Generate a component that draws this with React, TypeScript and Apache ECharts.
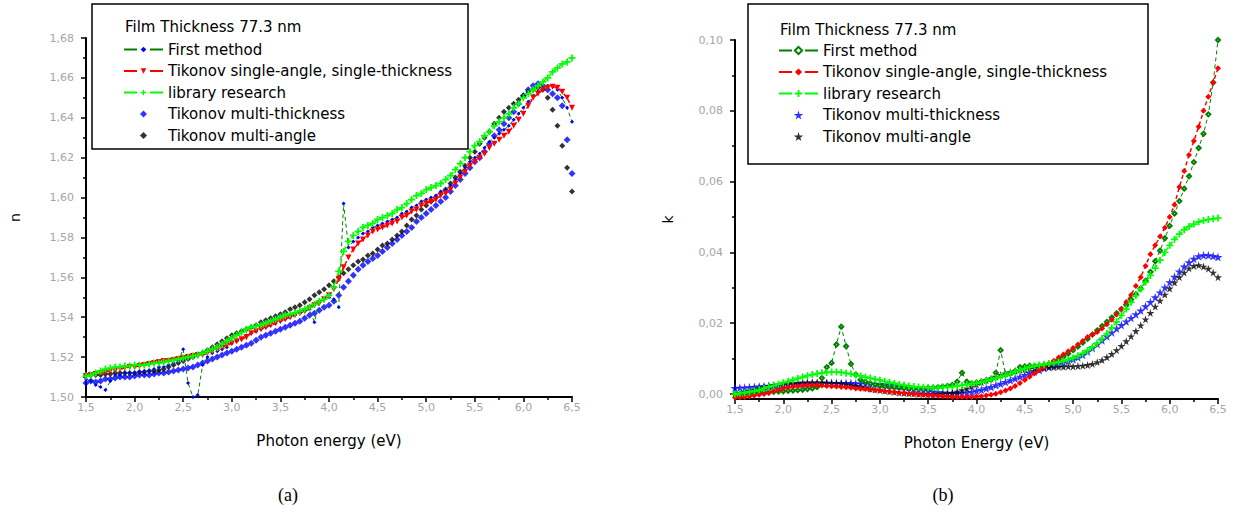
import React, { useEffect, useRef } from "react";
import * as echarts from "echarts";

// Photon energy sampling (eV)
const ENERGY = [
  1.5, 1.55, 1.6, 1.65, 1.7, 1.75, 1.8, 1.85, 1.9, 1.95,
  2.0, 2.05, 2.1, 2.15, 2.2, 2.25, 2.3, 2.35, 2.4, 2.45,
  2.5, 2.55, 2.6, 2.65, 2.7, 2.75, 2.8, 2.85, 2.9, 2.95,
  3.0, 3.05, 3.1, 3.15, 3.2, 3.25, 3.3, 3.35, 3.4, 3.45,
  3.5, 3.55, 3.6, 3.65, 3.7, 3.75, 3.8, 3.85, 3.9, 3.95,
  4.0, 4.05, 4.1, 4.15, 4.2, 4.25, 4.3, 4.35, 4.4, 4.45,
  4.5, 4.55, 4.6, 4.65, 4.7, 4.75, 4.8, 4.85, 4.9, 4.95,
  5.0, 5.05, 5.1, 5.15, 5.2, 5.25, 5.3, 5.35, 5.4, 5.45,
  5.5, 5.55, 5.6, 5.65, 5.7, 5.75, 5.8, 5.85, 5.9, 5.95,
  6.0, 6.05, 6.1, 6.15, 6.2, 6.25, 6.3, 6.35, 6.4, 6.45,
  6.5,
];

const SERIES_NAMES = [
  "First method",
  "Tikonov single-angle, single-thickness",
  "library research",
  "Tikonov multi-thickness",
  "Tikonov multi-angle",
];
const LEGEND_TITLE = "Film Thickness 77.3 nm";

// (a) refractive index n
const N_FIRST = [
  1.509, 1.508, 1.506, 1.505, 1.5035, 1.508, 1.511, 1.511, 1.512, 1.512,
  1.512, 1.5125, 1.513, 1.513, 1.514, 1.515, 1.515, 1.516, 1.517, 1.518,
  1.524, 1.507, 1.5, 1.501, 1.516, 1.52, 1.522, 1.523, 1.524, 1.525,
  1.527, 1.528, 1.529, 1.531, 1.532, 1.533, 1.534, 1.535, 1.536, 1.537,
  1.538, 1.539, 1.54, 1.541, 1.542, 1.543, 1.544, 1.5375, 1.548, 1.549,
  1.55, 1.549, 1.545, 1.597, 1.575, 1.578, 1.58, 1.582, 1.583, 1.585,
  1.586, 1.587, 1.588, 1.589, 1.59, 1.592, 1.593, 1.595, 1.596, 1.598,
  1.599, 1.6, 1.601, 1.603, 1.604, 1.606, 1.609, 1.612, 1.615, 1.618,
  1.62, 1.622, 1.625, 1.628, 1.63, 1.632, 1.634, 1.636, 1.639, 1.642,
  1.645, 1.648, 1.651, 1.653, 1.655, 1.656, 1.656, 1.654, 1.65, 1.645,
  1.638,
];
const N_SINGLE = [
  1.5105, 1.511, 1.5115, 1.512, 1.5125, 1.513, 1.5135, 1.514, 1.5145, 1.515,
  1.515, 1.5155, 1.516, 1.5165, 1.517, 1.5175, 1.518, 1.518, 1.5185, 1.519,
  1.5195, 1.52, 1.5205, 1.521, 1.521, 1.522, 1.523, 1.524, 1.525, 1.526,
  1.527, 1.528, 1.529, 1.53, 1.532, 1.533, 1.534, 1.535, 1.536, 1.537,
  1.538, 1.539, 1.54, 1.541, 1.542, 1.543, 1.5445, 1.546, 1.547, 1.549,
  1.551, 1.554, 1.559, 1.565, 1.57, 1.574, 1.577, 1.579, 1.581, 1.583,
  1.584, 1.585, 1.586, 1.587, 1.588, 1.59, 1.591, 1.593, 1.594, 1.596,
  1.597, 1.598, 1.599, 1.601, 1.602, 1.604, 1.607, 1.61, 1.613, 1.616,
  1.618, 1.62, 1.622, 1.625, 1.627, 1.629, 1.631, 1.633, 1.636, 1.639,
  1.642, 1.646, 1.65, 1.652, 1.654, 1.655, 1.6555, 1.655, 1.653, 1.65,
  1.645,
];
const N_LIBRARY = [
  1.5105, 1.511, 1.512, 1.513, 1.514, 1.5145, 1.515, 1.515, 1.5155, 1.5155,
  1.516, 1.516, 1.516, 1.5165, 1.517, 1.517, 1.5175, 1.518, 1.5185, 1.519,
  1.5195, 1.52, 1.5205, 1.521, 1.522, 1.523, 1.524, 1.525, 1.5265, 1.528,
  1.5295, 1.531, 1.5325, 1.534, 1.535, 1.5355, 1.536, 1.537, 1.538, 1.539,
  1.54, 1.541, 1.5415, 1.542, 1.543, 1.544, 1.545, 1.5465, 1.548, 1.549,
  1.551, 1.555, 1.563, 1.573, 1.578, 1.581, 1.583, 1.585, 1.586, 1.587,
  1.589, 1.59, 1.591, 1.592, 1.594, 1.595, 1.597, 1.599, 1.601, 1.602,
  1.604, 1.605, 1.606, 1.607, 1.609, 1.611, 1.614, 1.617, 1.62, 1.623,
  1.626, 1.628, 1.631, 1.633, 1.636, 1.638, 1.64, 1.642, 1.645, 1.647,
  1.65, 1.652, 1.654, 1.656, 1.658, 1.66, 1.663, 1.665, 1.667, 1.668,
  1.67,
];
const N_THICK = [
  1.507, 1.508, 1.5075, 1.508, 1.509, 1.509, 1.5095, 1.51, 1.51, 1.51,
  1.5105, 1.511, 1.511, 1.511, 1.5115, 1.512, 1.512, 1.5125, 1.513, 1.5135,
  1.514, 1.5145, 1.515, 1.516, 1.517, 1.518, 1.519, 1.52, 1.521, 1.522,
  1.523, 1.524, 1.525, 1.526, 1.527, 1.5285, 1.53, 1.531, 1.532, 1.533,
  1.534, 1.535, 1.536, 1.537, 1.538, 1.5395, 1.541, 1.542, 1.5435, 1.545,
  1.546, 1.548, 1.551, 1.555, 1.558, 1.561, 1.564, 1.566, 1.568, 1.5695,
  1.571, 1.573, 1.575, 1.577, 1.579, 1.581, 1.583, 1.585, 1.588, 1.59,
  1.592, 1.594, 1.596, 1.598, 1.6, 1.603, 1.606, 1.609, 1.612, 1.615,
  1.618, 1.62, 1.623, 1.627, 1.631, 1.634, 1.637, 1.64, 1.643, 1.647,
  1.651, 1.654, 1.656, 1.657, 1.656, 1.654, 1.652, 1.65, 1.646, 1.629,
  1.612,
];
const N_ANGLE = [
  1.511, 1.511, 1.511, 1.511, 1.5115, 1.5115, 1.512, 1.512, 1.512, 1.512,
  1.512, 1.5125, 1.5125, 1.513, 1.513, 1.5135, 1.514, 1.515, 1.516, 1.517,
  1.518, 1.519, 1.52, 1.521, 1.522, 1.5235, 1.525, 1.5265, 1.528, 1.5295,
  1.531, 1.532, 1.533, 1.534, 1.535, 1.536, 1.5375, 1.5385, 1.5395, 1.5405,
  1.5415, 1.5425, 1.544, 1.545, 1.546, 1.5475, 1.549, 1.551, 1.5525, 1.554,
  1.556, 1.558, 1.56, 1.562, 1.564, 1.566, 1.568, 1.569, 1.571, 1.572,
  1.574, 1.576, 1.577, 1.579, 1.581, 1.583, 1.586, 1.589, 1.591, 1.594,
  1.596, 1.598, 1.6, 1.602, 1.604, 1.607, 1.61, 1.613, 1.616, 1.62,
  1.623, 1.627, 1.63, 1.633, 1.637, 1.64, 1.643, 1.645, 1.647, 1.649,
  1.651, 1.653, 1.654, 1.655, 1.654, 1.65, 1.644, 1.636, 1.626, 1.615,
  1.603,
];

// (b) extinction coefficient k
const K_FIRST = [
  0.0, 0.0, 0.0001, 0.0001, 0.0002, 0.0003, 0.0004, 0.0005, 0.0006, 0.0007,
  0.0008, 0.0009, 0.001, 0.0011, 0.0012, 0.0014, 0.0016, 0.002, 0.0045, 0.0076,
  0.0088, 0.014, 0.019, 0.0135, 0.0085, 0.0055, 0.004, 0.0035, 0.003, 0.0027,
  0.0024, 0.0022, 0.002, 0.0019, 0.0018, 0.0017, 0.0016, 0.0016, 0.0016, 0.0016,
  0.0017, 0.0018, 0.0019, 0.0021, 0.0023, 0.0026, 0.0035, 0.006, 0.0035, 0.003,
  0.0032, 0.0035, 0.0038, 0.0042, 0.006, 0.0124, 0.0055, 0.0058, 0.0065, 0.0076,
  0.0078, 0.008, 0.0079, 0.008, 0.0082, 0.0085, 0.009, 0.0097, 0.0105, 0.0114,
  0.0124, 0.0134, 0.0145, 0.0156, 0.0168, 0.018, 0.0192, 0.0204, 0.0216, 0.0228,
  0.024, 0.0253, 0.0267, 0.0282, 0.0298, 0.032, 0.0345, 0.0375, 0.0405, 0.044,
  0.0475, 0.051, 0.0545, 0.058, 0.0615, 0.0655, 0.0695, 0.0735, 0.079, 0.088,
  0.1,
];
const K_SINGLE = [
  -0.001, -0.0009, -0.0008, -0.0006, -0.0004, -0.0002, 0.0, 0.0003, 0.0008, 0.0012,
  0.0016, 0.0019, 0.0021, 0.0023, 0.0024, 0.0025, 0.0025, 0.0025, 0.0024, 0.0023,
  0.0022, 0.0021, 0.002, 0.0019, 0.0018, 0.0016, 0.0015, 0.0014, 0.0012, 0.0011,
  0.001, 0.0008, 0.0007, 0.0005, 0.0004, 0.0003, 0.0001, 0.0, -0.0001, -0.0002,
  -0.0003, -0.0004, -0.0005, -0.0006, -0.0007, -0.0008, -0.0008, -0.0008, -0.0008, -0.0008,
  -0.0007, -0.0006, -0.0004, -0.0002, 0.0001, 0.0005, 0.001, 0.0016, 0.0023, 0.0031,
  0.004, 0.0049, 0.0058, 0.0067, 0.0076, 0.0085, 0.0094, 0.0103, 0.0112, 0.0121,
  0.013, 0.014, 0.015, 0.0161, 0.0168, 0.0175, 0.0185, 0.0197, 0.021, 0.0225,
  0.024, 0.026, 0.028, 0.0305, 0.033, 0.0362, 0.0395, 0.042, 0.0445, 0.047,
  0.05, 0.0535, 0.0585, 0.063, 0.0675, 0.0715, 0.0755, 0.08, 0.084, 0.088,
  0.092,
];
const K_LIBRARY = [
  0.0, 0.0002, 0.0004, 0.0006, 0.0009, 0.0012, 0.0016, 0.002, 0.0024, 0.0028,
  0.0032, 0.0036, 0.004, 0.0044, 0.0048, 0.0052, 0.0055, 0.0058, 0.006, 0.0061,
  0.0062, 0.0062, 0.0061, 0.0059, 0.0057, 0.0054, 0.0051, 0.0048, 0.0045, 0.0042,
  0.0039, 0.0036, 0.0033, 0.003, 0.0027, 0.0025, 0.0023, 0.0021, 0.002, 0.0019,
  0.0018, 0.0018, 0.0018, 0.0019, 0.002, 0.0021, 0.0023, 0.0025, 0.0027, 0.0029,
  0.0031, 0.0034, 0.0037, 0.0041, 0.0045, 0.0049, 0.0053, 0.0058, 0.0063, 0.0068,
  0.0072, 0.0076, 0.0079, 0.0082, 0.0084, 0.0086, 0.0088, 0.009, 0.0093, 0.0097,
  0.0102, 0.0108, 0.0115, 0.0123, 0.0133, 0.0144, 0.0157, 0.0171, 0.0187, 0.0204,
  0.0222, 0.024, 0.0259, 0.0278, 0.0297, 0.0316, 0.0335, 0.0356, 0.0378, 0.04,
  0.042, 0.0437, 0.0452, 0.0464, 0.0473, 0.048, 0.0486, 0.049, 0.0493, 0.0495,
  0.0497,
];
const K_THICK = [
  0.0017, 0.0018, 0.0018, 0.0019, 0.002, 0.0021, 0.0022, 0.0023, 0.0024, 0.0025,
  0.0026, 0.0027, 0.0028, 0.0029, 0.0029, 0.003, 0.003, 0.003, 0.0031, 0.0031,
  0.0031, 0.0031, 0.0031, 0.0031, 0.0031, 0.003, 0.003, 0.003, 0.0029, 0.0029,
  0.0028, 0.0027, 0.0026, 0.0025, 0.0023, 0.0021, 0.0018, 0.0015, 0.0013, 0.0011,
  0.0009, 0.0007, 0.0005, 0.0004, 0.0003, 0.0002, 0.0002, 0.0003, 0.0004, 0.0006,
  0.0009, 0.0012, 0.0016, 0.002, 0.0025, 0.0029, 0.0034, 0.0039, 0.0044, 0.0049,
  0.0054, 0.0059, 0.0064, 0.0068, 0.0073, 0.0077, 0.0081, 0.0085, 0.0089, 0.0093,
  0.0098, 0.0104, 0.0111, 0.012, 0.013, 0.0141, 0.0152, 0.0163, 0.0174, 0.0185,
  0.0195, 0.0205, 0.0215, 0.0225, 0.0236, 0.0248, 0.026, 0.0273, 0.0287, 0.0301,
  0.0316, 0.0331, 0.0346, 0.036, 0.0372, 0.0382, 0.0389, 0.0392, 0.0392, 0.039,
  0.0387,
];
const K_ANGLE = [
  0.0, 0.0002, 0.0005, 0.0008, 0.0012, 0.0016, 0.0019, 0.0022, 0.0025, 0.0027,
  0.0029, 0.003, 0.0031, 0.0032, 0.0032, 0.0033, 0.0033, 0.0033, 0.0033, 0.0032,
  0.0031, 0.003, 0.0029, 0.0027, 0.0025, 0.0023, 0.002, 0.0018, 0.0015, 0.0013,
  0.0011, 0.0009, 0.0007, 0.0006, 0.0004, 0.0003, 0.0002, 0.0001, 0.0, 0.0,
  -0.0001, -0.0001, 0.0, 0.0, 0.0002, 0.0004, 0.0007, 0.0011, 0.0016, 0.0021,
  0.0027, 0.0033, 0.0039, 0.0044, 0.0049, 0.0054, 0.0058, 0.0062, 0.0065, 0.0068,
  0.007, 0.0072, 0.0073, 0.0074, 0.0075, 0.0076, 0.0076, 0.0077, 0.0077, 0.0078,
  0.0078, 0.0079, 0.008, 0.0082, 0.0085, 0.009, 0.0096, 0.0104, 0.0113, 0.0124,
  0.0136, 0.0149, 0.0163, 0.0178, 0.0194, 0.0211, 0.0229, 0.0247, 0.0264, 0.0281,
  0.0298, 0.0315, 0.033, 0.0343, 0.0355, 0.0362, 0.0364, 0.036, 0.0354, 0.0343,
  0.033,
];

const K_MAJOR_TICKS = [0, 0.02, 0.04, 0.06, 0.08, 0.1];
const K_MINOR_TICKS = [0.01, 0.03, 0.05, 0.07, 0.09];

const PLUS = "path://M3,0H5V3H8V5H5V8H3V5H0V3H3Z";
const STAR = "path://M50,0L61,35L98,35L68,57L79,91L50,70L21,91L32,57L2,35L39,35Z";
const DIAMOND = "path://M5,0L10,5L5,10L0,5Z";

const zip = (ys: number[]) => ENERGY.map((x, i) => [x, ys[i]]);
const comma = (d: number) => (v: number) => v.toFixed(d).replace(".", ",");

const FONT = "DejaVu Sans";
const axisLine = { show: true, onZero: false, lineStyle: { color: "#000", width: 2 } };
const majorTick = { show: true, inside: false, length: 5, lineStyle: { color: "#000", width: 1.5 } };
const minorTick = { show: true, splitNumber: 2, length: 3, lineStyle: { color: "#000", width: 1.5 } };
const tickLabel = { color: "#a6a6a6", fontFamily: FONT, fontSize: 11 };
const nameStyle = { color: "#000", fontFamily: FONT, fontSize: 15 };

function xAxisOf(name: string) {
  return {
    type: "value",
    min: 1.5,
    max: 6.5,
    interval: 0.5,
    axisLine,
    axisTick: majorTick,
    minorTick,
    splitLine: { show: false },
    minorSplitLine: { show: false },
    axisLabel: { ...tickLabel, margin: 5, formatter: comma(1) },
    name,
    nameLocation: "middle",
    nameGap: 36,
    nameTextStyle: nameStyle,
  };
}

function legendOf(left: number, top: number, itemHeight: number) {
  return {
    orient: "vertical",
    left,
    top,
    padding: 0,
    itemWidth: 39,
    itemHeight,
    itemGap: 6.5,
    selectedMode: false,
    symbolKeepAspect: true,
    textStyle: { fontFamily: FONT, fontSize: 15, color: "#000", lineHeight: 15 },
    lineStyle: { width: 2, type: [13, 13] },
    data: SERIES_NAMES,
  };
}

function boxGraphics(rx: number, rw: number, rh: number, tx: number, ty: number, cap: string, cx: number) {
  return [
    { type: "rect", shape: { x: rx, y: 4, width: rw, height: rh }, style: { fill: "none", stroke: "#000", lineWidth: 1.5 } },
    { type: "text", x: tx, y: ty, style: { text: LEGEND_TITLE, fontFamily: FONT, fontSize: 15, fill: "#000", verticalAlign: "middle" } },
    { type: "text", x: cx, y: 495, style: { text: cap, fontFamily: "Liberation Serif", fontSize: 18, fill: "#000", align: "center", verticalAlign: "middle" } },
  ];
}

const optionA = {
  animation: false,
  grid: { left: 86, top: 38, width: 486, height: 359 },
  xAxis: xAxisOf("Photon energy (eV)"),
  yAxis: {
    type: "value",
    min: 1.5,
    max: 1.68,
    interval: 0.02,
    axisLine,
    axisTick: majorTick,
    minorTick,
    splitLine: { show: false },
    minorSplitLine: { show: false },
    axisLabel: { ...tickLabel, margin: 12, formatter: comma(2) },
    name: "n",
    nameLocation: "middle",
    nameGap: 64,
    nameTextStyle: { ...nameStyle, fontSize: 14 },
  },
  legend: legendOf(123, 42, 7),
  graphic: boxGraphics(92, 376, 145, 125, 27, "(a)", 288),
  series: [
    {
      name: SERIES_NAMES[0], type: "line", data: zip(N_FIRST), symbol: "diamond", symbolSize: 4, showAllSymbol: true,
      itemStyle: { color: "#0000ff" }, lineStyle: { color: "#008000", width: 1, type: [4, 3] },
    },
    {
      name: SERIES_NAMES[1], type: "line", data: zip(N_SINGLE), symbol: "triangle", symbolRotate: 180, symbolSize: 6, showAllSymbol: true,
      itemStyle: { color: "#ff0000" }, lineStyle: { color: "#ff0000", width: 1.5, type: [4, 3] },
    },
    {
      name: SERIES_NAMES[2], type: "line", data: zip(N_LIBRARY), symbol: PLUS, symbolSize: 7, showAllSymbol: true,
      itemStyle: { color: "#00ff00" }, lineStyle: { color: "#00ff00", width: 1.5, type: [4, 3] },
    },
    { name: SERIES_NAMES[3], type: "scatter", data: zip(N_THICK), symbol: DIAMOND, symbolSize: 7, itemStyle: { color: "#0000ff" } },
    { name: SERIES_NAMES[4], type: "scatter", data: zip(N_ANGLE), symbol: DIAMOND, symbolSize: 6, itemStyle: { color: "#000000" } },
  ],
};

const optionB = {
  animation: false,
  grid: { left: 115, top: 40, width: 483, height: 359 },
  xAxis: xAxisOf("Photon Energy (eV)"),
  yAxis: [
    {
      type: "value",
      min: -0.0014,
      max: 0.1,
      axisLine,
      axisTick: { ...majorTick, customValues: K_MAJOR_TICKS },
      splitLine: { show: false },
      axisLabel: { ...tickLabel, margin: 12, formatter: comma(2), customValues: K_MAJOR_TICKS },
      name: "k",
      nameLocation: "middle",
      nameGap: 60,
      nameTextStyle: { ...nameStyle, fontSize: 14 },
    },
    {
      type: "value",
      min: -0.0014,
      max: 0.1,
      position: "left",
      axisLine: { show: false },
      axisTick: { show: true, length: 3, lineStyle: { color: "#000", width: 1.5 }, customValues: K_MINOR_TICKS },
      axisLabel: { show: false },
      splitLine: { show: false },
    },
  ],
  legend: legendOf(158, 43, 9),
  graphic: boxGraphics(128, 400, 160, 160, 30, "(b)", 323),
  series: [
    {
      name: SERIES_NAMES[0], type: "line", data: zip(K_FIRST), symbol: "emptyDiamond", symbolSize: 4, showAllSymbol: true,
      itemStyle: { color: "#008000" }, lineStyle: { color: "#008000", width: 1, type: [4, 3] },
    },
    {
      name: SERIES_NAMES[1], type: "line", data: zip(K_SINGLE), symbol: "diamond", symbolSize: 6, showAllSymbol: true,
      itemStyle: { color: "#ff0000" }, lineStyle: { color: "#ff0000", width: 1.5, type: [4, 3] },
    },
    {
      name: SERIES_NAMES[2], type: "line", data: zip(K_LIBRARY), symbol: PLUS, symbolSize: 7, showAllSymbol: true,
      itemStyle: { color: "#00ff00" }, lineStyle: { color: "#00ff00", width: 1.5, type: [4, 3] },
    },
    { name: SERIES_NAMES[3], type: "scatter", data: zip(K_THICK), symbol: STAR, symbolSize: 9, itemStyle: { color: "#0000ff" } },
    { name: SERIES_NAMES[4], type: "scatter", data: zip(K_ANGLE), symbol: STAR, symbolSize: 8, itemStyle: { color: "#000000" } },
  ],
};

export default function App() {
  const refA = useRef<HTMLDivElement>(null);
  const refB = useRef<HTMLDivElement>(null);

  useEffect(() => {
    const a = echarts.init(refA.current as HTMLDivElement, null, { renderer: "svg" });
    const b = echarts.init(refB.current as HTMLDivElement, null, { renderer: "svg" });
    a.setOption(optionA as any);
    b.setOption(optionB as any);
    return () => {
      a.dispose();
      b.dispose();
    };
  }, []);

  return (
    <div style={{ position: "absolute", left: 0, top: 0, width: 1241, height: 521, background: "#fff" }}>
      <div ref={refA} style={{ position: "absolute", left: 0, top: 0, width: 620, height: 521 }} />
      <div ref={refB} style={{ position: "absolute", left: 620, top: 0, width: 621, height: 521 }} />
    </div>
  );
}
